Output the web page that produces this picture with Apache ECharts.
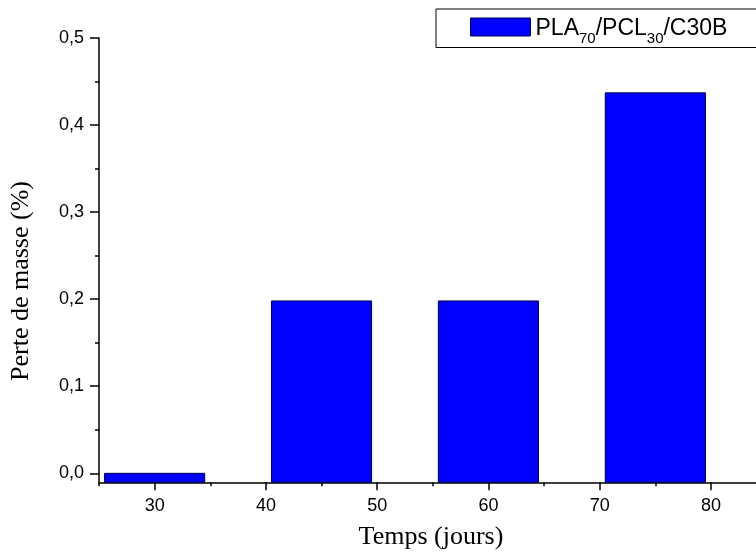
<!DOCTYPE html>
<html><head><meta charset="utf-8">
<script src="https://cdn.jsdelivr.net/npm/echarts@6/dist/echarts.min.js"></script>
<style>html,body{margin:0;padding:0;background:#fff}#c{width:756px;height:555px}</style>
</head><body><div id="c"></div>
<script>
// ---- data ----
const days = [30, 45, 60, 75];
const massLoss = [0, 0.198, 0.198, 0.437];
const seriesName = 'PLA70/PCL30/C30B';
const xTitle = 'Temps (jours)';
const yTitle = 'Perte de masse (%)';
const xTickValues = [30, 40, 50, 60, 70, 80];
const yTickValues = [0, 0.1, 0.2, 0.3, 0.4, 0.5];

const barSpan = 9;
const X_MIN = 25, X_MAX = 85, Y_MIN = -0.0103, Y_MAX = 0.5;
const AX = {color: '#000', width: 1.5};
const sans = '"Liberation Sans", Arial, sans-serif';
const serif = '"Liberation Serif", "Times New Roman", serif';

const chart = echarts.init(document.getElementById('c'), null, {renderer: 'canvas'});
chart.setOption({
  backgroundColor: '#fff',
  animation: false,
  grid: [
    {left: 99, width: 667.6, top: 38, bottom: 72.7, containLabel: false, outerBoundsMode: 'none'},
    {left: 99, width: 667.6, top: 38, bottom: 81.7, containLabel: false, outerBoundsMode: 'none'},
    {left: 154.7, width: 667.6, top: 38, bottom: 72.7, containLabel: false, outerBoundsMode: 'none'}
  ],
  xAxis: [
    {gridIndex: 0, type: 'value', min: X_MIN, max: X_MAX,
     axisLine: {show: true, onZero: false, lineStyle: AX},
     axisTick: {show: true, length: 4, lineStyle: AX},
     axisLabel: {show: false}, splitLine: {show: false}},
    {gridIndex: 1, type: 'value', show: false, min: X_MIN, max: X_MAX},
    {gridIndex: 2, type: 'value', min: 30, max: 90, interval: 10,
     axisLine: {show: false, onZero: false},
     axisTick: {show: true, length: 8, lineStyle: AX},
     minorTick: {show: true, splitNumber: 2, length: 4, lineStyle: AX},
     axisLabel: {fontSize: 18, fontFamily: sans, color: '#000', margin: 15,
       formatter: v => xTickValues.indexOf(v) >= 0 ? String(v) : ''},
     splitLine: {show: false}, minorSplitLine: {show: false}}
  ],
  yAxis: [
    {gridIndex: 0, type: 'value', min: Y_MIN, max: Y_MAX,
     axisLine: {show: true, onZero: false, lineStyle: AX},
     axisTick: {show: false}, axisLabel: {show: false}, splitLine: {show: false}},
    {gridIndex: 1, type: 'value', min: 0, max: 0.5, interval: 0.1,
     axisLine: {show: false, onZero: false},
     axisTick: {show: true, length: 9, lineStyle: AX},
     minorTick: {show: true, splitNumber: 2, length: 4, lineStyle: AX},
     axisLabel: {fontSize: 18, fontFamily: sans, color: '#000', margin: 15,
       formatter: v => yTickValues.some(t => Math.abs(t - v) < 1e-9) ? v.toFixed(1).replace('.', ',') : ''},
     splitLine: {show: false}, minorSplitLine: {show: false}},
    {gridIndex: 2, type: 'value', show: false, min: 0, max: 1}
  ],
  legend: {
    data: [{name: seriesName, icon: 'rect'}],
    left: 436, top: 9, itemWidth: 60, itemHeight: 18, itemGap: 0,
    padding: [6.5, 60, 1, 34], borderColor: '#000', borderWidth: 1,
    itemStyle: {color: '#0000ff', borderColor: '#00004d', borderWidth: 1},
    formatter: () => '{a|PLA}{s|70}{a|/PCL}{s|30}{a|/C30B}',
    textStyle: {rich: {
      a: {fontSize: 23, fontFamily: sans, color: '#000', lineHeight: 23, verticalAlign: 'top', padding: [2, 0, 0, 0]},
      s: {fontSize: 15, fontFamily: sans, color: '#000', lineHeight: 15, verticalAlign: 'top', padding: [16, 0, 0, 0]}
    }}
  },
  graphic: [
    {type: 'text', x: 21, y: 281, rotation: Math.PI / 2,
     style: {text: yTitle, font: '26px ' + serif, fill: '#000', align: 'center', verticalAlign: 'middle'}},
    {type: 'text', x: 431, y: 537,
     style: {text: xTitle, font: '26px ' + serif, fill: '#000', align: 'center', verticalAlign: 'middle'}}
  ],
  series: [{
    name: seriesName, type: 'custom', xAxisIndex: 0, yAxisIndex: 0,
    itemStyle: {color: '#0000ff', borderColor: '#00004d', borderWidth: 1},
    encode: {x: 0, y: 1},
    data: days.map((d, i) => [d, massLoss[i]]),
    renderItem: function (params, api) {
      const x = api.value(0), v = api.value(1);
      const p0 = api.coord([x - barSpan / 2, Y_MIN]);
      const p1 = api.coord([x + barSpan / 2, v]);
      return {type: 'rect',
        shape: {x: p0[0], y: p1[1], width: p1[0] - p0[0], height: p0[1] - p1[1]},
        style: {fill: '#0000ff', stroke: '#00004d', lineWidth: 1}};
    }
  }]
});
</script></body></html>
